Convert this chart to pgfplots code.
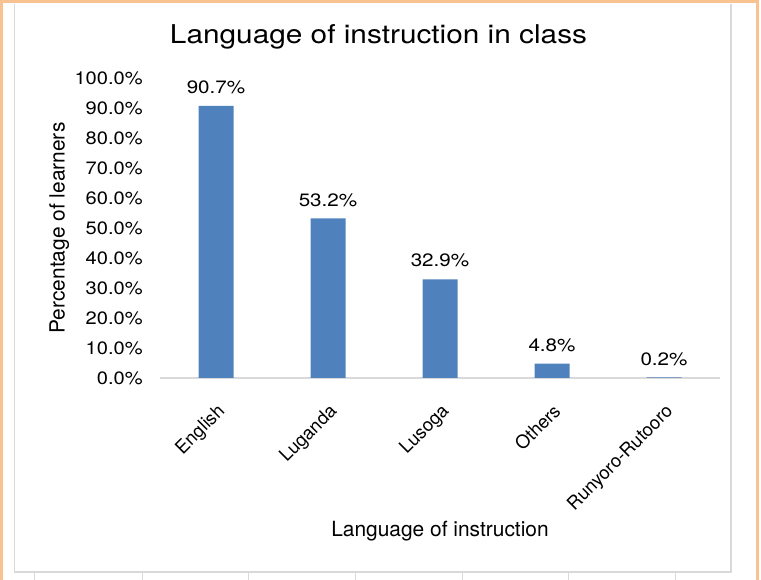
\documentclass[border=0pt]{standalone}
\usepackage{fontspec}
\setmainfont{TeX Gyre Heros}
\usepackage{pgfplots}
\pgfplotsset{compat=1.18}
\definecolor{barblue}{HTML}{4F81BD}
\definecolor{frameorange}{HTML}{F9C391}
\definecolor{framegray}{HTML}{D9D9D9}

\begin{document}
\begin{tikzpicture}[x=1bp,y=1bp]
\useasboundingbox (0,0) rectangle (761,580);
% screenshot frame
\draw[frameorange, line width=3bp] (1.5,-2) -- (1.5,578) -- (757.5,578) -- (757.5,-2);
\draw[framegray, line width=1.5bp] (14.5,576) -- (14.5,8) -- (731,8) -- (731,576);
\foreach \t in {34,142,248,355,462,568,675} \draw[framegray, line width=1bp] (\t,8) -- (\t,0);
\node[font=\fontsize{26}{30}\selectfont, xscale=1.15] at (378.5,543) {Language of instruction in class};
\begin{axis}[
    at={(160bp,202bp)}, anchor=south west,
    scale only axis, width=560bp, height=300bp,
    ybar, bar width=35bp,
    xmin=-0.5, xmax=4.5, ymin=0, ymax=100,
    enlargelimits=false, clip=false,
    xtick=data,
    xticklabels={English,Luganda,Lusoga,Others,Runyoro-Rutooro},
    ytick={0,10,...,100},
    major tick length=0,
    axis x line*=bottom, axis y line*=left,
    x axis line style={framegray, line width=1.5bp},
    y axis line style={draw=none},
    /pgf/number format/assume math mode=true,
    yticklabel={\pgfmathprintnumber[fixed,fixed zerofill,precision=1]{\tick}\%},
    yticklabel style={font=\fontsize{18}{21}\selectfont, xscale=1.12, xshift=-12bp},
    xticklabel style={font=\fontsize{18.5}{22}\selectfont, rotate=45, anchor=north east, xshift=-14bp, yshift=-14bp},
    nodes near coords={\pgfmathprintnumber[fixed,fixed zerofill,precision=1]{\pgfplotspointmeta}\%},
    nodes near coords style={font=\fontsize{18}{21}\selectfont, xscale=1.15, black, yshift=8.5bp},
    xlabel={Language of instruction},
    ylabel={Percentage of learners},
    label style={font=\fontsize{21}{24}\selectfont},
    xlabel style={at={(axis description cs:0.5,-0.51)}, anchor=center},
    ylabel style={at={(axis description cs:-0.18,0.5)}, anchor=center},
]
\addplot[fill=barblue, draw=none] coordinates {
    (0, 90.7)
    (1, 53.2)
    (2, 32.9)
    (3, 4.8)
    (4, 0.2)
};
\end{axis}
\end{tikzpicture}
\end{document}
